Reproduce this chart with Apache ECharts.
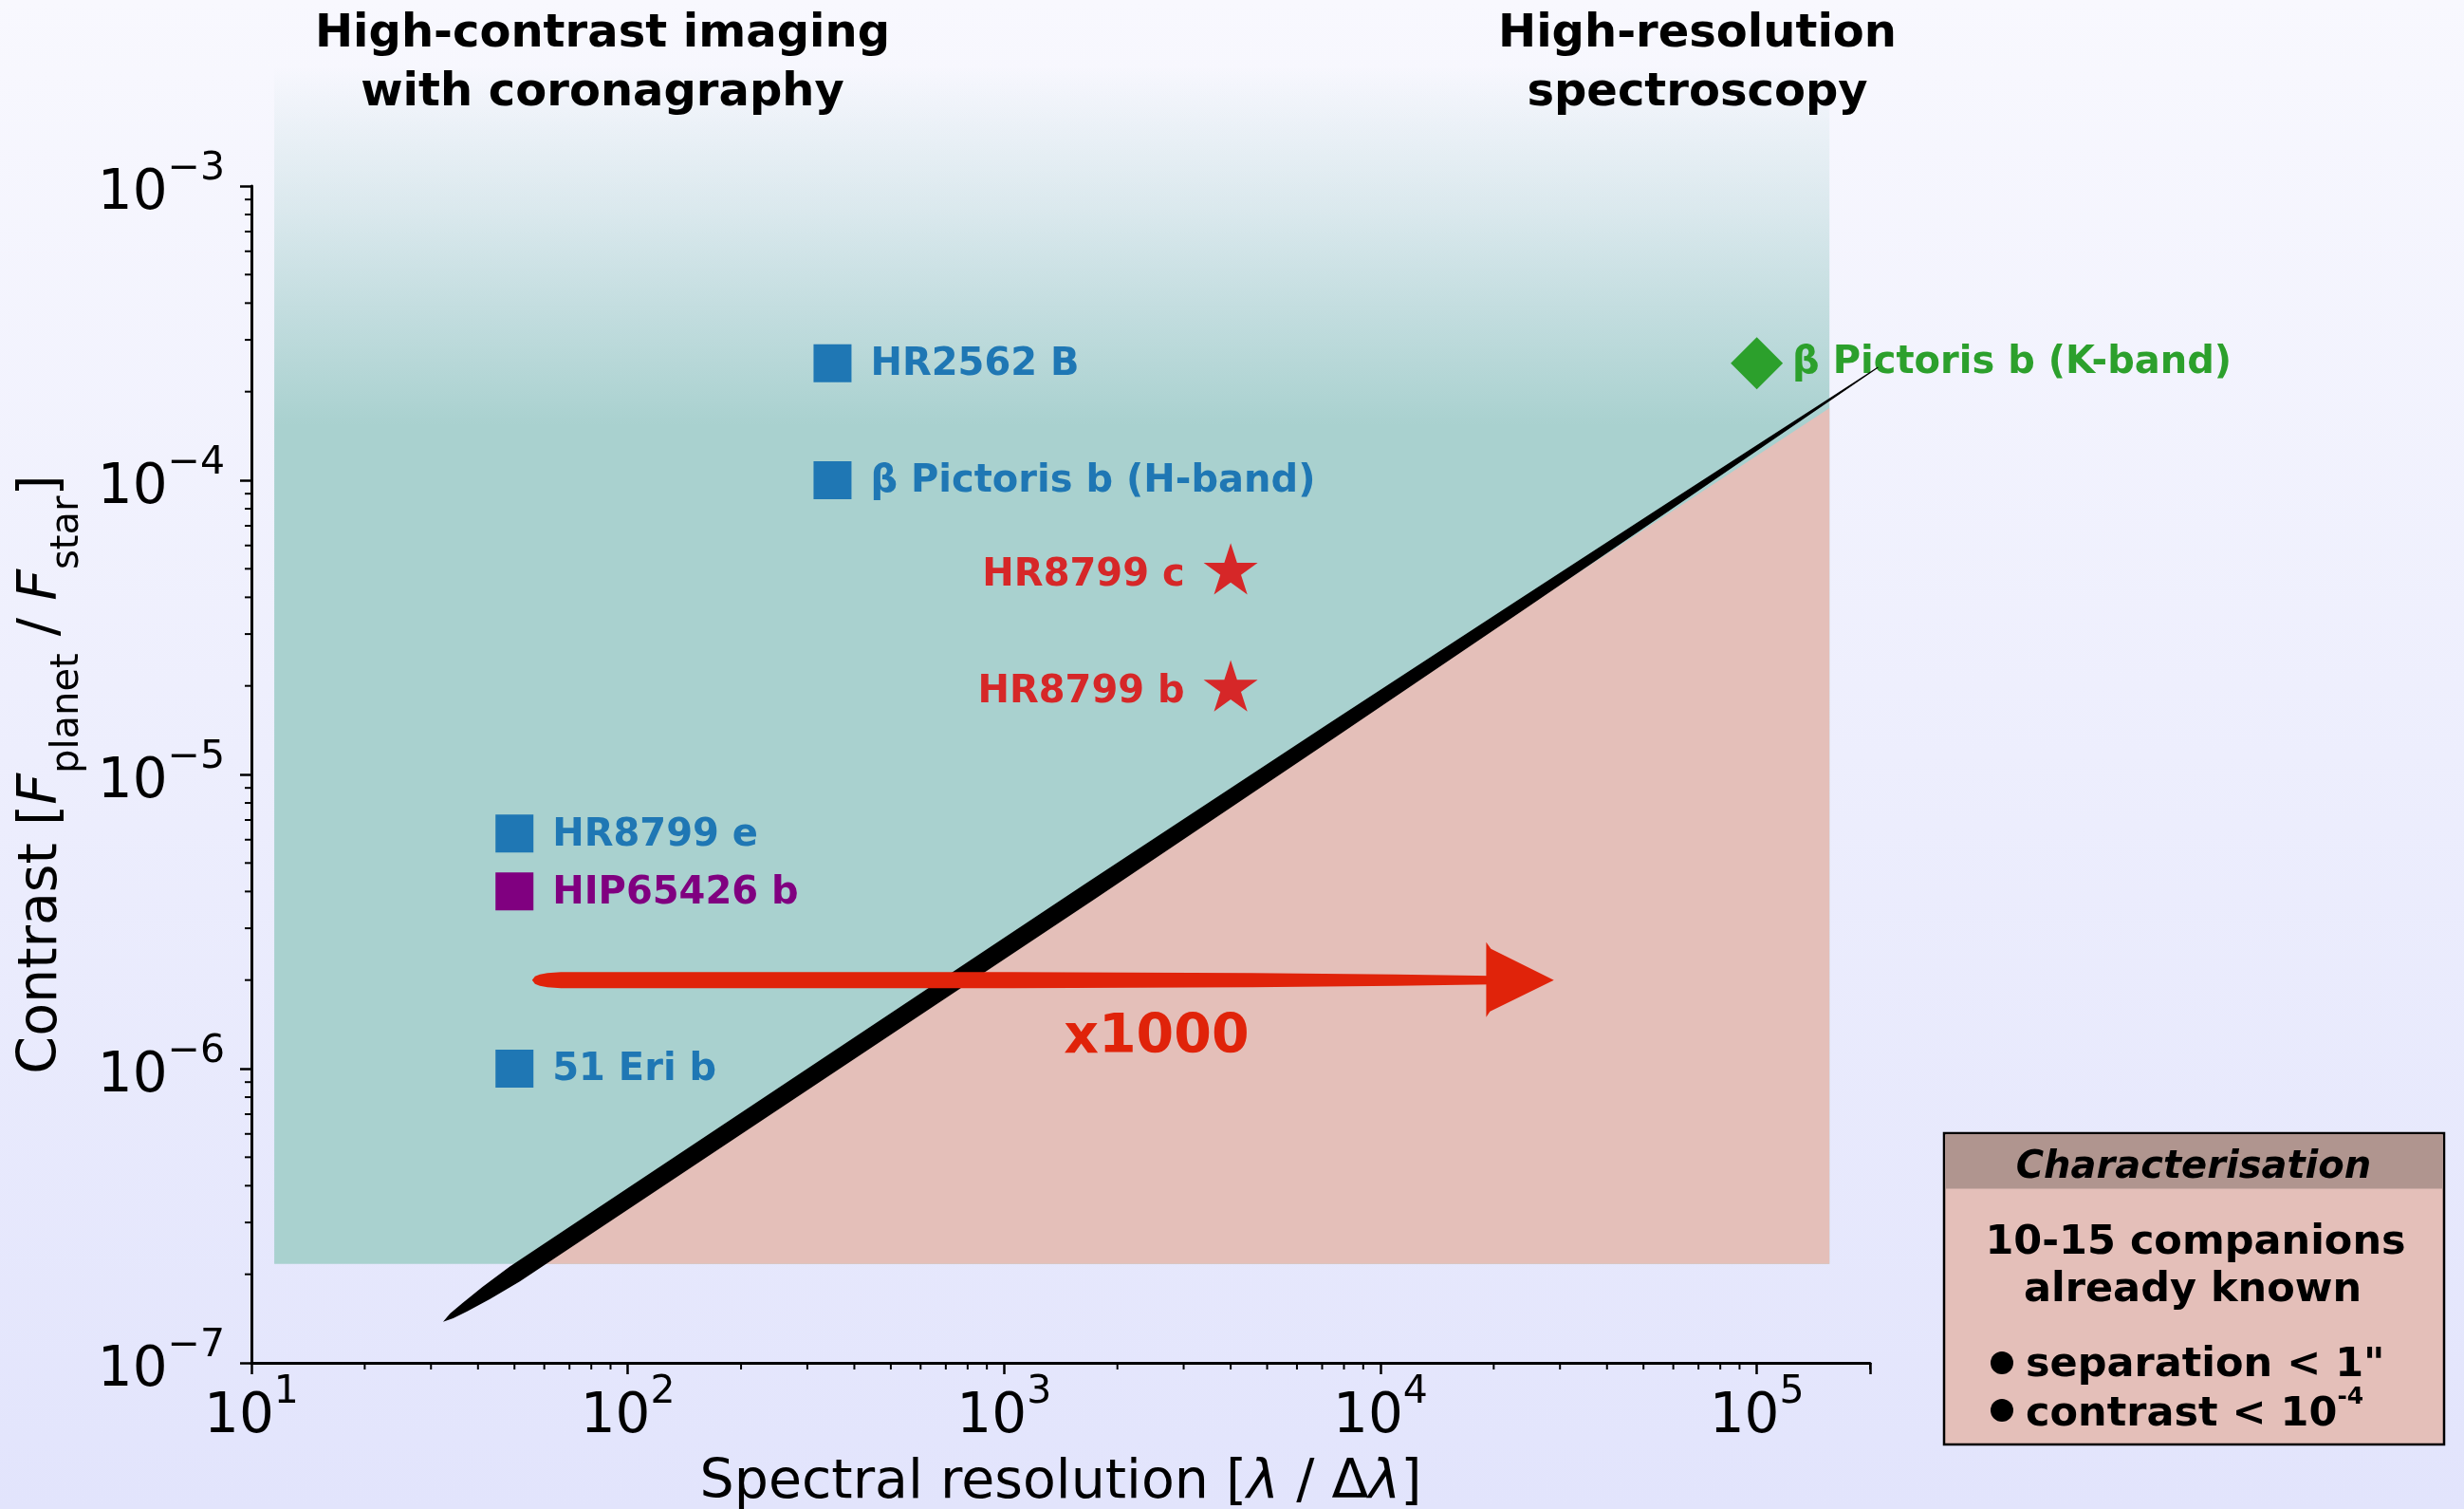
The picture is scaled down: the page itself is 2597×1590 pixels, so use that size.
<!DOCTYPE html>
<html>
<head>
<meta charset="utf-8">
<title>Contrast vs spectral resolution</title>
<script src="https://cdn.jsdelivr.net/npm/echarts@6/dist/echarts.min.js"></script>
<style>
  html, body { margin: 0; padding: 0; background: #eeeffd; }
  #chart { width: 2597px; height: 1590px; }
</style>
</head>
<body>
<div id="chart"></div>
<script>
// ---- axis ranges ----
const resolutionRange = [10, 2e5];
const contrastRange = [1e-7, 1e-3];
const minorMultipliers = [2, 3, 4, 5, 6, 7, 8, 9];

// ---- known companions ----
const blueNames = ['HR2562 B', 'β Pictoris b (H-band)', 'HR8799 e', '51 Eri b'];
const blueResolution = [350, 350, 50, 50];
const blueContrast = [2.5e-4, 1e-4, 6.3e-6, 1e-6];

const purpleNames = ['HIP65426 b'];
const purpleResolution = [50];
const purpleContrast = [4e-6];

const starNames = ['HR8799 c', 'HR8799 b'];
const starResolution = [4000, 4000];
const starContrast = [5e-5, 2e-5];

const greenNames = ['β Pictoris b (K-band)'];
const greenResolution = [1e5];
const greenContrast = [2.5e-4];

// ---- shaded regions ----
// coronagraphy domain (rectangle, fades out towards the top)
const coronagraphyResolution = [11.5, 1.56e5];
const coronagraphyContrast = [2.17e-7, 2.55e-3];
// gain from high-resolution spectroscopy (triangle under the boundary)
const gainZoneResolution = [53, 1.56e5, 1.56e5];
const gainZoneContrast = [2.17e-7, 2.17e-7, 1.76e-4];
// brush-stroke boundary line: start and end points
const boundaryResolution = [32.3, 2.1e5];
const boundaryContrast = [1.38e-7, 2.42e-4];
// x1000 arrow: shaft start, head base, head tip
const arrowResolution = [55.7, 1.91e4, 2.89e4];
const arrowContrast = [2e-6];
const arrowText = ['x1000'];
const arrowTextResolution = [2540];
const arrowTextContrast = [1.27e-6];

// ---- styling ----
const FONT = '"DejaVu Sans", "Noto Sans", sans-serif';
const TEAL = '#a9d1cf';
const PINK = '#e4bfb9';
const ARROW_RED = '#e0230a';

// width profile of the brush strokes (fraction along stroke -> full width in px)
const boundaryT = [0, 0.006, 0.015, 0.03, 0.05, 0.45, 0.62, 0.75, 0.85, 0.92, 0.97, 1];
const boundaryW = [0, 6, 10, 15, 19, 19, 16, 12, 8, 5, 2.5, 1];
const shaftT = [0, 0.003, 0.008, 0.016, 0.03, 0.5, 0.75, 0.9, 1];
const shaftW = [0, 8, 12, 15, 17, 17, 15, 12, 9];

function starPath() {
  let d = '';
  for (let i = 0; i < 10; i++) {
    const r = i % 2 ? 38.2 : 100;
    const a = -Math.PI / 2 + i * Math.PI / 5;
    d += (i ? 'L' : 'M') + (r * Math.cos(a)).toFixed(2) + ' ' + (r * Math.sin(a)).toFixed(2);
  }
  return 'path://' + d + 'Z';
}

function isPow10(v) {
  const l = Math.log10(v);
  return Math.abs(l - Math.round(l)) < 1e-6;
}
function powerLabel(v) {
  if (!isPow10(v)) return '';
  const e = Math.round(Math.log10(v));
  return '{b|10}{s|' + (e < 0 ? '\u2212' + (-e) : e) + '}';
}
const tickRich = {
  b: { fontSize: 58, lineHeight: 76, verticalAlign: 'bottom', fontFamily: FONT, color: '#000' },
  s: { fontSize: 41, lineHeight: 40, verticalAlign: 'top', fontFamily: FONT, color: '#000' }
};

function stroke(a, b, ts, ws) {
  const dx = b[0] - a[0], dy = b[1] - a[1];
  const len = Math.hypot(dx, dy);
  const nx = -dy / len, ny = dx / len;
  const up = [], lo = [];
  for (let k = 0; k < ts.length; k++) {
    const cx = a[0] + dx * ts[k], cy = a[1] + dy * ts[k], w = ws[k] / 2;
    up.push([cx + nx * w, cy + ny * w]);
    lo.push([cx - nx * w, cy - ny * w]);
  }
  return up.concat(lo.reverse());
}

function labelStyle(color, position, distance, offset) {
  return {
    show: true, position: position, distance: distance, offset: offset || [0, 0],
    formatter: p => p.value[2],
    color: color, fontSize: 40, fontWeight: 'bold', fontFamily: FONT
  };
}

const minorX = [];
for (let e = 1; e <= 5; e++) minorMultipliers.forEach(m => { const v = m * Math.pow(10, e); if (v <= resolutionRange[1] * 1.0001) minorX.push([v, contrastRange[0]]); });
const minorY = [];
for (let e = -7; e < -3; e++) minorMultipliers.forEach(m => minorY.push([resolutionRange[0], m * Math.pow(10, e)]));

const chart = echarts.init(document.getElementById('chart'), null, { renderer: 'canvas', width: 2597, height: 1590 });

const boxText = { fill: '#000', align: 'center', textAlign: 'center', verticalAlign: 'middle' };

const option = {
  animation: false,
  backgroundColor: {
    type: 'linear', x: 0, y: 0, x2: 0, y2: 1,
    colorStops: [{ offset: 0, color: '#f8f8fe' }, { offset: 1, color: '#e2e4fc' }]
  },
  grid: { left: 265, right: 626, top: 196, bottom: 154, containLabel: false, outerBoundsMode: 'none' },
  xAxis: {
    type: 'log', logBase: 10, min: resolutionRange[0], max: resolutionRange[1],
    splitLine: { show: false },
    axisLine: { lineStyle: { color: '#000', width: 3 } },
    axisTick: { show: true, length: 12, lineStyle: { color: '#000', width: 2.5 } },
    axisLabel: { margin: 11, formatter: powerLabel, rich: tickRich },
    name: '{n|Spectral resolution [}{i|λ}{n| / Δ}{i|λ}{n|]}',
    nameLocation: 'middle', nameGap: 93,
    nameTextStyle: {
      rich: {
        n: { fontSize: 57, lineHeight: 68, fontFamily: FONT, color: '#000' },
        i: { fontSize: 57, lineHeight: 68, fontFamily: FONT, fontStyle: 'italic', color: '#000' }
      }
    }
  },
  yAxis: {
    type: 'log', logBase: 10, min: contrastRange[0], max: contrastRange[1],
    splitLine: { show: false },
    axisLine: { lineStyle: { color: '#000', width: 3 } },
    axisTick: { show: true, length: 12, lineStyle: { color: '#000', width: 2.5 } },
    axisLabel: { margin: 28, formatter: powerLabel, rich: tickRich },
    name: '{n|Contrast [}{i|F}{sub|planet}{n| / }{i|F}{sub|star}{n|]}',
    nameLocation: 'middle', nameRotate: 90, nameGap: 168,
    nameTextStyle: {
      rich: {
        n: { fontSize: 57, lineHeight: 76, verticalAlign: 'top', fontFamily: FONT, color: '#000' },
        i: { fontSize: 57, lineHeight: 76, verticalAlign: 'top', fontFamily: FONT, fontStyle: 'italic', color: '#000' },
        sub: { fontSize: 40, lineHeight: 46, verticalAlign: 'bottom', fontFamily: FONT, color: '#000' }
      }
    }
  },
  graphic: [
    {
      type: 'text', x: 635, y: 6, z: 10,
      style: { text: 'High-contrast imaging\nwith coronagraphy', fill: '#000', font: 'bold 48px ' + FONT,
        align: 'center', textAlign: 'center', verticalAlign: 'top', lineHeight: 62 }
    },
    {
      type: 'text', x: 1789, y: 6, z: 10,
      style: { text: 'High-resolution\nspectroscopy', fill: '#000', font: 'bold 48px ' + FONT,
        align: 'center', textAlign: 'center', verticalAlign: 'top', lineHeight: 62 }
    },
    {
      type: 'group', z: 10,
      children: [
        { type: 'rect', shape: { x: 2049, y: 1194, width: 527, height: 328 }, style: { fill: PINK, stroke: '#000', lineWidth: 2.5 } },
        { type: 'rect', shape: { x: 2050.5, y: 1195.5, width: 524, height: 57 }, style: { fill: '#b0958f' } },
        { type: 'text', x: 2312, y: 1231, style: Object.assign({ text: 'Characterisation', font: 'italic bold 40px ' + FONT }, boxText) },
        { type: 'text', x: 2314, y: 1310, style: Object.assign({ text: '10-15 companions', font: 'bold 43px ' + FONT }, boxText) },
        { type: 'text', x: 2311, y: 1360, style: Object.assign({ text: 'already known', font: 'bold 43px ' + FONT }, boxText) },
        { type: 'circle', shape: { cx: 2110, cy: 1436, r: 12 }, style: { fill: '#000' } },
        { type: 'circle', shape: { cx: 2110, cy: 1486, r: 12 }, style: { fill: '#000' } },
        {
          type: 'text', x: 2135, y: 1439,
          style: { text: 'separation < 1"', fill: '#000', font: 'bold 43px ' + FONT, align: 'left', textAlign: 'left', verticalAlign: 'middle' }
        },
        {
          type: 'text', x: 2135, y: 1486,
          style: {
            text: '{t|contrast < 10}{s|-4}', align: 'left', textAlign: 'left', verticalAlign: 'middle',
            rich: {
              t: { fontSize: 43, lineHeight: 52, verticalAlign: 'bottom', fontWeight: 'bold', fontFamily: FONT, fill: '#000', color: '#000' },
              s: { fontSize: 25, lineHeight: 48, verticalAlign: 'top', fontWeight: 'bold', fontFamily: FONT, fill: '#000', color: '#000' }
            }
          }
        }
      ]
    }
  ],
  series: [
    // coronagraphy domain
    {
      type: 'custom', silent: true, clip: false, z: 1,
      data: [[coronagraphyResolution[0], coronagraphyContrast[0]]],
      renderItem: function (params, api) {
        const p0 = api.coord([coronagraphyResolution[0], coronagraphyContrast[1]]);
        const p1 = api.coord([coronagraphyResolution[1], coronagraphyContrast[0]]);
        return {
          type: 'rect',
          shape: { x: p0[0], y: p0[1], width: p1[0] - p0[0], height: p1[1] - p0[1] },
          style: {
            fill: {
              type: 'linear', x: 0, y: 0, x2: 0, y2: 1,
              colorStops: [
                { offset: 0, color: 'rgba(169,209,207,0)' },
                { offset: 0.12, color: 'rgba(169,209,207,0.35)' },
                { offset: 0.30, color: TEAL },
                { offset: 1, color: TEAL }
              ]
            }
          }
        };
      }
    },
    // spectroscopy gain triangle
    {
      type: 'custom', silent: true, clip: false, z: 1,
      data: [[gainZoneResolution[0], gainZoneContrast[0]]],
      renderItem: function (params, api) {
        const pts = gainZoneResolution.map((x, i) => api.coord([x, gainZoneContrast[i]]));
        return { type: 'polygon', shape: { points: pts }, style: { fill: PINK } };
      }
    },
    // minor ticks on the x axis
    {
      type: 'custom', silent: true, clip: false, z: 5,
      data: minorX,
      renderItem: function (params, api) {
        const p = api.coord([api.value(0), api.value(1)]);
        return { type: 'line', shape: { x1: p[0], y1: p[1], x2: p[0], y2: p[1] + 7 }, style: { stroke: '#000', lineWidth: 2 } };
      }
    },
    // minor ticks on the y axis
    {
      type: 'custom', silent: true, clip: false, z: 5,
      data: minorY,
      renderItem: function (params, api) {
        const p = api.coord([api.value(0), api.value(1)]);
        return { type: 'line', shape: { x1: p[0] - 7, y1: p[1], x2: p[0], y2: p[1] }, style: { stroke: '#000', lineWidth: 2 } };
      }
    },
    // companions
    {
      type: 'scatter', symbol: 'rect', symbolSize: 40, z: 2,
      itemStyle: { color: '#1f77b4', opacity: 1 },
      label: labelStyle('#1f77b4', 'right', 20, [0, 2]),
      data: blueResolution.map((x, i) => [x, blueContrast[i], blueNames[i]])
    },
    {
      type: 'scatter', symbol: 'rect', symbolSize: 40, z: 2,
      itemStyle: { color: '#800080', opacity: 1 },
      label: labelStyle('#800080', 'right', 20, [0, 2]),
      data: purpleResolution.map((x, i) => [x, purpleContrast[i], purpleNames[i]])
    },
    {
      type: 'scatter', symbol: starPath(), symbolKeepAspect: true, symbolSize: 57, z: 2,
      itemStyle: { color: '#d62728', opacity: 1 },
      label: labelStyle('#d62728', 'left', 20, [0, 7]),
      data: starResolution.map((x, i) => [x, starContrast[i], starNames[i]])
    },
    {
      type: 'scatter', symbol: 'diamond', symbolSize: 55, z: 2,
      itemStyle: { color: '#2ca02c', opacity: 1 },
      label: labelStyle('#2ca02c', 'right', 10),
      data: greenResolution.map((x, i) => [x, greenContrast[i], greenNames[i]])
    },
    // boundary brush stroke
    {
      type: 'custom', silent: true, clip: false, z: 3,
      data: [[boundaryResolution[0], boundaryContrast[0]]],
      renderItem: function (params, api) {
        const a = api.coord([boundaryResolution[0], boundaryContrast[0]]);
        const b = api.coord([boundaryResolution[1], boundaryContrast[1]]);
        return { type: 'polygon', shape: { points: stroke(a, b, boundaryT, boundaryW) }, style: { fill: '#000' } };
      }
    },
    // x1000 arrow
    {
      type: 'custom', silent: true, clip: false, z: 4,
      data: [[arrowResolution[0], arrowContrast[0]]],
      renderItem: function (params, api) {
        const a = api.coord([arrowResolution[0], arrowContrast[0]]);
        const h = api.coord([arrowResolution[1], arrowContrast[0]]);
        const t = api.coord([arrowResolution[2], arrowContrast[0]]);
        return {
          type: 'group',
          children: [
            { type: 'polygon', shape: { points: stroke(a, [h[0] + 6, h[1]], shaftT, shaftW) }, style: { fill: ARROW_RED } },
            { type: 'polygon', shape: { points: [[h[0], h[1] - 40], [h[0] + 5, h[1] - 33], [t[0], t[1]], [h[0] + 4, h[1] + 33], [h[0], h[1] + 39]] }, style: { fill: ARROW_RED } }
          ]
        };
      }
    },
    {
      type: 'scatter', symbolSize: 0, z: 4, silent: true,
      itemStyle: { opacity: 1 },
      label: { show: true, position: 'inside', formatter: p => p.value[2], color: ARROW_RED, fontSize: 57, fontWeight: 'bold', fontFamily: FONT },
      data: arrowTextResolution.map((x, i) => [x, arrowTextContrast[i], arrowText[i]])
    }
  ]
};

chart.setOption(option);
</script>
</body>
</html>
